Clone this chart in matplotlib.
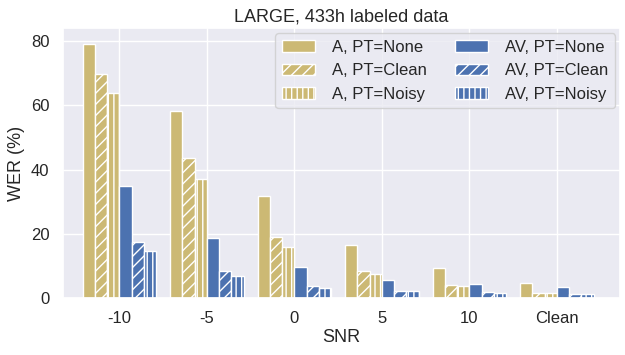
import matplotlib
matplotlib.use("Agg")
import matplotlib.pyplot as plt
import numpy as np
import seaborn as sns

snr_labels = ["-10", "-5", "0", "5", "10", "Clean"]
a_none = [79.1, 58.4, 31.9, 16.6, 9.4, 4.7]
a_clean = [69.7, 43.7, 19.1, 8.4, 4.0, 1.5]
a_noisy = [64.0, 37.2, 16.0, 7.5, 3.8, 1.6]
av_none = [35.0, 18.7, 9.7, 5.6, 4.4, 3.4]
av_clean = [17.5, 8.4, 3.7, 2.2, 1.9, 1.3]
av_noisy = [14.7, 6.9, 3.1, 2.2, 1.6, 1.2]

sns.set_theme(style="darkgrid")
plt.rcParams['font.family'] = ['Liberation Sans', 'DejaVu Sans']

gold = "#ccb974"
blue = "#4c72b0"

series = [
    (a_none, gold, None, "A, PT=None"),
    (a_clean, gold, "///", "A, PT=Clean"),
    (a_noisy, gold, "|||", "A, PT=Noisy"),
    (av_none, blue, None, "AV, PT=None"),
    (av_clean, blue, "///", "AV, PT=Clean"),
    (av_noisy, blue, "|||", "AV, PT=Noisy"),
]

fig, ax = plt.subplots(figsize=(6.25, 3.55), dpi=100)
x = np.arange(len(snr_labels))
w = 0.14
for i, (vals, col, hatch, lab) in enumerate(series):
    ax.bar(x + (i - 2.5) * w, vals, width=w, color=col, edgecolor="white",
           hatch=hatch, linewidth=1, label=lab)

ax.set_xticks(x)
ax.set_xticklabels(snr_labels, fontsize=12)
ax.tick_params(axis="y", labelsize=12)
ax.set_xlim(-0.65, 5.72)
ax.set_ylim(0, 84)
ax.set_yticks([0, 20, 40, 60, 80])
ax.set_xlabel("SNR", fontsize=13, labelpad=2)
ax.set_ylabel("WER (%)", fontsize=13)
ax.set_title("LARGE, 433h labeled data", fontsize=13, pad=5)
ax.legend(ncol=2, fontsize=12, loc="upper right", borderaxespad=0.3,
          handlelength=2, handletextpad=1.0, columnspacing=1.7)

fig.subplots_adjust(left=0.1, right=0.992, top=0.92, bottom=0.16)
fig.savefig("out.png", dpi=100)
